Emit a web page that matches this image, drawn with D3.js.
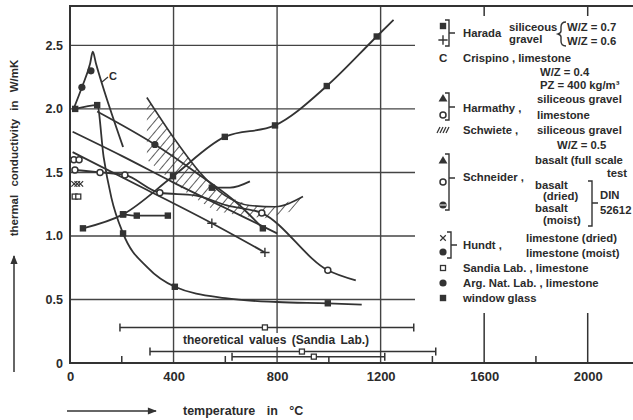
<!DOCTYPE html>
<html>
<head>
<meta charset="utf-8">
<script src="https://cdn.jsdelivr.net/npm/d3@7"></script>
<style>
  body { margin: 0; background: #fff; }
  svg text { font-family: "Liberation Sans", Arial, sans-serif; font-weight: bold; fill: #2b2b2b; }
</style>
</head>
<body>
<div id="chart"></div>
<script>
// values: temperature in °C, conductivity in W/mK
const xTicks = [0, 400, 800, 1200, 1600, 2000];
const xMinor = [200, 600, 1000, 1400, 1800];
const yTicks = [0, 0.5, 1.0, 1.5, 2.0, 2.5];
const yGrid = [0.5, 1.0, 1.5, 2.0, 2.5];
const xGrid = [400, 800, 1200];

// Harada, siliceous gravel W/Z = 0.7 (filled squares)
const haradaHigh = [[50, 1.06], [205, 1.17], [398, 1.47], [598, 1.78], [792, 1.87], [992, 2.18], [1185, 2.57], [1250, 2.70]];
const haradaHighMarks = [[50, 1.06], [205, 1.17], [398, 1.47], [598, 1.78], [792, 1.87], [992, 2.18], [1185, 2.57]];
// Harada, W/Z = 0.6 (plus)
const haradaLow = [[10, 1.66], [300, 1.36], [548, 1.10], [753, 0.87]];
const haradaLowMarks = [[548, 1.10], [753, 0.87]];
// Crispino, limestone
const crispino = [[12, 1.99], [46, 2.17], [78, 2.36], [88, 2.45], [100, 2.36], [150, 2.03], [205, 1.70]];
const crispinoMarks = [[46, 2.17], [81, 2.30]];
// Harmathy, siliceous gravel (triangles)
const harmathySil = [[10, 1.82], [200, 1.63], [400, 1.42], [600, 1.22], [800, 1.02]];
// Harmathy, limestone (open)
const harmathyLime = [[19, 1.52], [116, 1.50], [212, 1.48], [347, 1.34], [483, 1.32], [606, 1.24], [741, 1.18], [996, 0.73], [1104, 0.65]];
const harmathyLimeMarks = [[19, 1.52], [116, 1.50], [212, 1.48], [347, 1.34], [741, 1.18], [996, 0.73]];
// Schwiete band, siliceous gravel W/Z = 0.5
const schwieteUpper = [[297, 2.09], [405, 1.76], [502, 1.50], [598, 1.32], [695, 1.24], [792, 1.23], [900, 1.31]];
const schwieteLower = [[849, 1.19], [753, 1.14], [656, 1.16], [560, 1.20], [463, 1.32], [367, 1.48], [297, 1.60]];
const schwieteCurve = [[548, 1.38], [618, 1.38], [695, 1.43]];
// Schneider, basalt full scale
const schneiderFull = [[105, 1.98], [328, 1.72], [500, 1.48], [656, 1.24], [745, 1.06]];
const schneiderFullDots = [[328, 1.72]];
const schneiderFullEnd = [[745, 1.06]];
// Arg. Nat. Lab., limestone
const argNat = [[20, 2.00], [105, 2.03], [130, 1.62], [160, 1.30], [205, 1.02], [300, 0.75], [405, 0.60], [600, 0.51], [800, 0.48], [996, 0.47], [1127, 0.46]];
const argNatMarks = [[20, 2.00], [105, 2.03], [205, 1.02], [405, 0.60], [996, 0.47]];
// window glass
const windowGlass = [[205, 1.17], [258, 1.16], [378, 1.16]];
// single values at room temperature
const schneiderDried = [[15, 1.60], [35, 1.60]];
const hundtDried = [[16, 1.41], [28, 1.41], [40, 1.41]];
const sandia = [[18, 1.31], [32, 1.31]];
// theoretical values (Sandia Lab.): [from, to, mid, k]
const theoryBars = [[193, 1328, 753, 0.28], [309, 1413, 896, 0.09], [626, 1216, 942, 0.05]];

const width = 633, height = 420;
const ink = '#333';

const svg = d3.select('#chart').append('svg')
  .attr('width', width).attr('height', height)
  .attr('viewBox', [0, 0, width, height]);

const x = d3.scaleLinear().domain([0, 2175]).range([70, 633]);
const y = d3.scaleLinear().domain([0, 2.81]).range([363, 6]);

const defs = svg.append('defs');
const hatch = defs.append('pattern').attr('id', 'hatch')
  .attr('patternUnits', 'userSpaceOnUse').attr('width', 7).attr('height', 7)
  .attr('patternTransform', 'rotate(40)');
hatch.append('line').attr('x1', 0).attr('y1', 0).attr('x2', 0).attr('y2', 7)
  .attr('stroke', ink).attr('stroke-width', 1.6);

// grid
svg.append('g').selectAll('line').data(yGrid).join('line')
  .attr('x1', x(0)).attr('x2', 415).attr('y1', d => y(d)).attr('y2', d => y(d))
  .attr('stroke', '#444').attr('stroke-width', 1.4);
svg.append('g').selectAll('line').data(xGrid).join('line')
  .attr('x1', d => x(d)).attr('x2', d => x(d)).attr('y1', y.range()[1]).attr('y2', y(0))
  .attr('stroke', '#444').attr('stroke-width', 1.4);

// frame
svg.append('path')
  .attr('d', `M633,${y.range()[1]}H${x(0)}V${y(0)}H633`)
  .attr('fill', 'none').attr('stroke', ink).attr('stroke-width', 2);

// long ticks at 1600 / 2000 and minor ticks
svg.append('g').selectAll('line').data([1600, 2000]).join('line')
  .attr('x1', d => x(d)).attr('x2', d => x(d)).attr('y1', y(0)).attr('y2', y(0) - 50)
  .attr('stroke', ink).attr('stroke-width', 1.5);
svg.append('g').selectAll('line').data([1600, 2000]).join('line')
  .attr('x1', d => x(d)).attr('x2', d => x(d)).attr('y1', 6).attr('y2', 16)
  .attr('stroke', ink).attr('stroke-width', 1.5);
svg.append('g').selectAll('line').data(xMinor).join('line')
  .attr('x1', d => x(d)).attr('x2', d => x(d)).attr('y1', y(0)).attr('y2', y(0) - 7)
  .attr('stroke', ink).attr('stroke-width', 1.5);

// axis labels
const xAxis = svg.append('g').attr('transform', `translate(0,${y(0)})`)
  .call(d3.axisBottom(x).tickValues(xTicks).tickSize(0).tickPadding(9).tickFormat(d3.format('d')));
xAxis.select('.domain').remove();
xAxis.selectAll('text').attr('font-size', 13).attr('fill', '#2b2b2b')
  .style('font-family', '"Liberation Sans", Arial, sans-serif').style('font-weight', 'bold');

const yAxis = svg.append('g').attr('transform', `translate(${x(0)},0)`)
  .call(d3.axisLeft(y).tickValues(yTicks).tickSize(0).tickPadding(7)
    .tickFormat(d => d === 0 ? '0' : d3.format('.1f')(d)));
yAxis.select('.domain').remove();
yAxis.selectAll('text').attr('font-size', 12.5).attr('fill', '#2b2b2b')
  .style('font-family', '"Liberation Sans", Arial, sans-serif').style('font-weight', 'bold');

// axis titles with arrows
const arrow = defs.append('marker').attr('id', 'arr').attr('viewBox', '0 0 10 10')
  .attr('refX', 9).attr('refY', 5).attr('markerWidth', 9).attr('markerHeight', 6)
  .attr('orient', 'auto-start-reverse');
arrow.append('path').attr('d', 'M0,1L10,5L0,9Z').attr('fill', ink);

svg.append('line').attr('x1', 67).attr('x2', 156).attr('y1', 411).attr('y2', 411)
  .attr('stroke', ink).attr('stroke-width', 1.5).attr('marker-end', 'url(#arr)');
svg.append('text').attr('x', 183).attr('y', 415).attr('font-size', 12.5)
  .attr('word-spacing', 8).text('temperature in °C');

svg.append('line').attr('x1', 14).attr('x2', 14).attr('y1', 372).attr('y2', 256)
  .attr('stroke', ink).attr('stroke-width', 1.5).attr('marker-end', 'url(#arr)');
svg.append('text').attr('transform', 'translate(18,148) rotate(-90)')
  .attr('text-anchor', 'middle').attr('font-size', 11.5).attr('word-spacing', 5)
  .text('thermal conductivity in W/mK');

// Schwiete hatched band
svg.append('path')
  .attr('d', d3.line().x(d => x(d[0])).y(d => y(d[1])).curve(d3.curveLinearClosed)(schwieteUpper.concat(schwieteLower)))
  .attr('fill', 'url(#hatch)').attr('stroke', 'none');
svg.append('path')
  .attr('d', d3.line().x(d => x(d[0])).y(d => y(d[1])).curve(d3.curveMonotoneX)(schwieteUpper))
  .attr('fill', 'none').attr('stroke', ink).attr('stroke-width', 1.6);

const line = d3.line().x(d => x(d[0])).y(d => y(d[1])).curve(d3.curveMonotoneX);
const curves = [haradaHigh, haradaLow, crispino, harmathySil, harmathyLime, schneiderFull, argNat, windowGlass, schwieteCurve];
svg.append('g').selectAll('path').data(curves).join('path')
  .attr('d', line).attr('fill', 'none').attr('stroke', ink).attr('stroke-width', 1.8);

// crispino leader + label
svg.append('line').attr('x1', 102).attr('y1', 82).attr('x2', 108).attr('y2', 77)
  .attr('stroke', ink).attr('stroke-width', 1.2);
svg.append('text').attr('x', 109).attr('y', 80).attr('font-size', 11).text('C');

// marker drawing
function drawMark(g, type, px, py) {
  const s = g.append('g').attr('transform', `translate(${px},${py})`);
  if (type === 'sq') s.append('rect').attr('x', -3.2).attr('y', -3.2).attr('width', 6.4).attr('height', 6.4).attr('fill', ink);
  else if (type === 'sqo') s.append('rect').attr('x', -2.5).attr('y', -2.5).attr('width', 5).attr('height', 5).attr('fill', '#fff').attr('stroke', ink).attr('stroke-width', 1.3);
  else if (type === 'dot') s.append('circle').attr('r', 3.6).attr('fill', ink);
  else if (type === 'circ') s.append('circle').attr('r', 3).attr('fill', '#fff').attr('stroke', ink).attr('stroke-width', 1.5);
  else if (type === 'half') {
    s.append('circle').attr('r', 3.6).attr('fill', ink);
    s.append('line').attr('x1', -3).attr('x2', 3).attr('stroke', '#fff').attr('stroke-width', 1);
  } else if (type === 'tri') s.append('path').attr('d', d3.symbol(d3.symbolTriangle, 34)).attr('fill', ink);
  else if (type === 'plus') s.append('path').attr('d', d3.symbol(d3.symbolPlus, 30)).attr('fill', 'none').attr('stroke', ink).attr('stroke-width', 1.4);
  else if (type === 'x') s.append('path').attr('d', d3.symbol(d3.symbolX, 22)).attr('fill', 'none').attr('stroke', ink).attr('stroke-width', 1.2);
  else if (type === 'hatch') {
    for (let i = 0; i < 4; i++) s.append('line').attr('x1', -6 + i * 3).attr('y1', 3).attr('x2', -3 + i * 3).attr('y2', -3).attr('stroke', ink).attr('stroke-width', 1.3);
  }
}

const mg = svg.append('g');
const markSets = [
  ['sq', haradaHighMarks], ['plus', haradaLowMarks], ['dot', crispinoMarks],
  ['circ', harmathyLimeMarks], ['dot', schneiderFullDots], ['sq', schneiderFullEnd], ['sq', argNatMarks],
  ['sq', windowGlass], ['circ', schneiderDried], ['x', hundtDried], ['sqo', sandia],
  ['sq', [schwieteCurve[0]]]
];
markSets.forEach(([t, pts]) => pts.forEach(d => drawMark(mg, t, x(d[0]), y(d[1]))));

// theoretical values (Sandia Lab.)
const tb = svg.append('g');
theoryBars.forEach(([a, b, m, k]) => {
  tb.append('line').attr('x1', x(a)).attr('x2', x(b)).attr('y1', y(k)).attr('y2', y(k)).attr('stroke', ink).attr('stroke-width', 1.5);
  [a, b].forEach(v => tb.append('line').attr('x1', x(v)).attr('x2', x(v)).attr('y1', y(k) - 4).attr('y2', y(k) + 4).attr('stroke', ink).attr('stroke-width', 1.5));
  drawMark(tb, 'sqo', x(m), y(k));
});
svg.append('rect').attr('x', 181).attr('y', 333).attr('width', 190).attr('height', 14).attr('fill', '#fff');
svg.append('text').attr('x', 183).attr('y', 344).attr('font-size', 12).attr('word-spacing', 2)
  .text('theoretical values (Sandia Lab.)');

// legend
const lg = svg.append('g');
const legendMarks = [['sq', 26], ['plus', 40], ['tri', 99], ['circ', 115], ['hatch', 130], ['tri', 161], ['circ', 182], ['half', 205], ['x', 238], ['dot', 252], ['sqo', 268], ['dot', 283], ['sq', 298]];
legendMarks.forEach(([t, py]) => drawMark(lg, t, 443, py));
lg.append('text').attr('x', 439).attr('y', 62).attr('font-size', 11.5).text('C');

const legendText = [
  ['Harada', 463, 37], ['siliceous', 509, 31], ['gravel', 509, 43], ['W/Z = 0.7', 567, 31], ['W/Z = 0.6', 567, 45],
  ['Crispino , limestone', 463, 62], ['W/Z = 0.4', 540, 76], ['PZ   = 400 kg/m³', 540, 89],
  ['Harmathy ,', 463, 112], ['siliceous gravel', 537, 103], ['limestone', 537, 119],
  ['Schwiete ,', 463, 134], ['siliceous gravel', 537, 134], ['W/Z = 0.5', 557, 149],
  ['basalt (full scale', 535, 164], ['test', 607, 177], ['Schneider ,', 463, 181],
  ['basalt', 535, 189], ['(dried)', 543, 200], ['basalt', 535, 212], ['(moist)', 543, 224],
  ['DIN', 600, 199], ['52612', 600, 214],
  ['Hundt ,', 463, 249], ['limestone (dried)', 526, 242], ['limestone (moist)', 526, 257],
  ['Sandia Lab. , limestone', 463, 272], ['Arg. Nat. Lab. , limestone', 463, 287], ['window glass', 463, 302]
];
lg.selectAll('text.lt').data(legendText).join('text').attr('class', 'lt')
  .attr('x', d => d[1]).attr('y', d => d[2]).attr('font-size', 11.3).text(d => d[0]);

// brackets
const brackets = [[449, 20, 46, 33], [449, 93, 120, 107], [449, 154, 210, 178], [451, 232, 258, 245], [592, 181, 226, 203]];
brackets.forEach(([bx, y0, y1, ym]) => {
  lg.append('path').attr('d', `M${bx - 4},${y0}H${bx}V${y1}H${bx - 4}M${bx},${ym}H${bx + 6}`)
    .attr('fill', 'none').attr('stroke', ink).attr('stroke-width', 1.4);
});
lg.append('path').attr('d', 'M566,22Q561,22 561,27V31Q561,33 558,34Q561,35 561,37V41Q561,46 566,46')
  .attr('fill', 'none').attr('stroke', ink).attr('stroke-width', 1.4);
</script>
</body>
</html>
